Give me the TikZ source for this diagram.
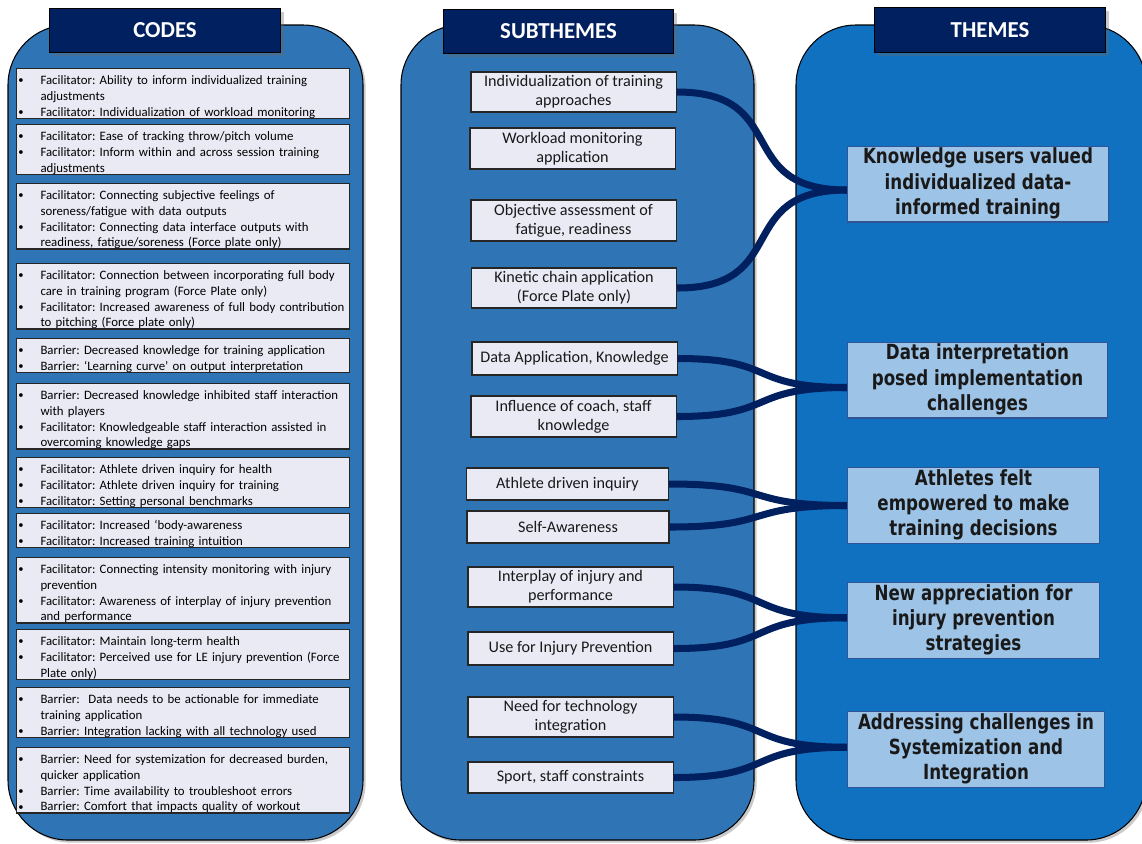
\documentclass[tikz,border=0pt]{standalone}
\usepackage{fontspec}
\usepackage{graphicx}
\setmainfont{Carlito}
\newfontfamily\themefont{DejaVu Sans}
\usepackage{tikz}
\usetikzlibrary{calc}
\usetikzlibrary{shadows}

\definecolor{panelblue}{HTML}{2F75B5}
\definecolor{themepanel}{HTML}{1071C1}
\definecolor{navy}{HTML}{002060}
\definecolor{lavender}{HTML}{E9EAF4}
\definecolor{themefill}{HTML}{9DC3E6}
\definecolor{themeedge}{HTML}{2F5597}

\newcommand{\bul}[1]{\par\noindent\hangindent=11.6pt\hangafter=1%
  \makebox[11.6pt][l]{\hspace{-1pt}\raisebox{0.4pt}{\fontsize{6}{6}\selectfont\textbullet}}#1\par}
\newcommand{\tall}[1]{\scalebox{1}[1.25]{\begin{tabular}{@{}c@{}}#1\end{tabular}}}

\begin{document}
\begin{tikzpicture}
 [ x=0.02cm, y=-0.02cm
 , panel/.style={draw=black, line width=0.6pt, rounded corners=1.2cm,
     drop shadow={shadow xshift=1.5pt, shadow yshift=-1.5pt, opacity=0.35, fill=black!60}}
 , header/.style={draw=black, fill=navy, text=white, line width=0.5pt,
     font=\bfseries\fontsize{13}{15}\selectfont, minimum width=131pt, minimum height=25.5pt,
     drop shadow={shadow xshift=2pt, shadow yshift=-2pt, opacity=0.35, fill=black!60}}
 , codebox/.style={draw=black!85, fill=lavender, line width=0.7pt, anchor=north west,
     text width=185.3pt, inner xsep=2pt, inner ysep=0pt, align=left,
     font=\fontsize{7.3}{9}\selectfont\frenchspacing, minimum height={(#1*16+1)*0.02cm}}
 , subbox/.style={draw=black!85, fill=lavender, line width=0.7pt, text=black!90,
     align=center, inner sep=1pt, minimum width=116.8pt, minimum height={#1*0.02cm},
     font=\fontsize{9.2}{11}\selectfont}
 , themebox/.style={draw=themeedge, fill=themefill, line width=0.7pt, text=black!90,
     inner sep=0pt, minimum width=#1, minimum height=43.1pt,
     font=\themefont\bfseries\fontsize{9.5}{11.5}\selectfont}
 , link/.style={draw=navy, line width=4pt}
 ]
  \clip (0,0) rectangle (1142,843);

  % the three columns
  \draw[panel, fill=panelblue] (8,25) rectangle (363,840);
  \draw[panel, fill=panelblue] (401,25) rectangle (754,840);
  \draw[panel, fill=themepanel] (796,25) rectangle (1146,840);

  \node[header] (codes) at (165,30.5) {CODES};
  \node[header] (subthemes) at (558.5,31.5) {SUBTHEMES};
  \node[header] (themes) at (990,30) {THEMES};

  % codes
  \node[codebox=3] (c1) at (16,68)
    {\bul{Facilitator: Ability to inform individualized training\newline adjustments}
     \bul{Facilitator: Individualization of workload monitoring}};
  \node[codebox=3] (c2) at (16,124)
    {\bul{Facilitator: Ease of tracking throw/pitch volume}
     \bul{Facilitator: Inform within and across session training\newline adjustments}};
  \node[codebox=4] (c3) at (16,183)
    {\bul{Facilitator: Connecting subjective feelings of\newline soreness/fatigue with data outputs}
     \bul{Facilitator: Connecting data interface outputs with\newline readiness, fatigue/soreness (Force plate only)}};
  \node[codebox=4] (c4) at (16,263)
    {\bul{Facilitator: Connection between incorporating full body\newline care in training program (Force Plate only)}
     \bul{Facilitator: Increased awareness of full body contribution\newline to pitching (Force plate only)}};
  \node[codebox=2] (c5) at (16,338)
    {\bul{Barrier: Decreased knowledge for training application}
     \bul{Barrier: ‘Learning curve’ on output interpretation}};
  \node[codebox=4] (c6) at (16,383)
    {\bul{Barrier: Decreased knowledge inhibited staff interaction\newline with players}
     \bul{Facilitator: Knowledgeable staff interaction assisted in\newline overcoming knowledge gaps}};
  \node[codebox=3] (c7) at (16,457)
    {\bul{Facilitator: Athlete driven inquiry for health}
     \bul{Facilitator: Athlete driven inquiry for training}
     \bul{Facilitator: Setting personal benchmarks}};
  \node[codebox=2] (c8) at (16,513)
    {\bul{Facilitator: Increased ‘body-awareness}
     \bul{Facilitator: Increased training intuition}};
  \node[codebox=4] (c9) at (16,557)
    {\bul{Facilitator: Connecting intensity monitoring with injury\newline prevention}
     \bul{Facilitator: Awareness of interplay of injury prevention\newline and performance}};
  \node[codebox=3] (c10) at (16,629)
    {\bul{Facilitator: Maintain long-term health}
     \bul{Facilitator: Perceived use for LE injury prevention (Force\newline Plate only)}};
  \node[codebox=3] (c11) at (16,687)
    {\bul{Barrier:\ \ Data needs to be actionable for immediate\newline training application}
     \bul{Barrier: Integration lacking with all technology used}};
  \node[codebox=4] (c12) at (16,747)
    {\bul{Barrier: Need for systemization for decreased burden,\newline quicker application}
     \bul{Barrier: Time availability to troubleshoot errors}
     \bul{Barrier: Comfort that impacts quality of workout}};

  % subthemes
  \node[subbox=40] (S1) at (573.5,92) {Individualization of training\\approaches};
  \node[subbox=41] (S2) at (572.5,148.5) {Workload monitoring\\application};
  \node[subbox=41] (S3) at (573.5,220.5) {Objective assessment of\\fatigue, readiness};
  \node[subbox=40] (S4) at (574,288) {Kinetic chain application\\(Force Plate only)};
  \node[subbox=33] (S5) at (574.5,358.5) {Data Application, Knowledge};
  \node[subbox=41] (S6) at (573.5,416.5) {Influence of coach, staff\\knowledge};
  \node[subbox=32, minimum width=115pt] (S7) at (567.5,484) {Athlete driven inquiry};
  \node[subbox=32, minimum width=115pt] (S8) at (568,527) {Self-Awareness};
  \node[subbox=40] (S9) at (570.5,587) {Interplay of injury and\\performance};
  \node[subbox=33] (S10) at (570.5,648.5) {Use for Injury Prevention};
  \node[subbox=40] (S11) at (570.5,717) {Need for technology\\integration};
  \node[subbox=31] (S12) at (570.5,777.5) {Sport, staff constraints};

  % themes
  \node[themebox=148.5pt] (T1) at (978,184)
    {\tall{Knowledge users valued\\individualized data-\\informed training}};
  \node[themebox=148pt] (T2) at (977.5,380)
    {\tall{Data interpretation\\posed implementation\\challenges}};
  \node[themebox=143.4pt] (T3) at (973.5,505.5)
    {\tall{Athletes felt\\empowered to make\\training decisions}};
  \node[themebox=143.4pt] (T4) at (973.5,620.5)
    {\tall{New appreciation for\\injury prevention\\strategies}};
  \node[themebox=146.3pt] (T5) at (976,749.5)
    {\tall{Addressing challenges in\\Systemization and\\Integration}};

  % braces from subthemes to themes
  \foreach \a/\b/\t in {S1/S4/T1, S5/S6/T2, S7/S8/T3, S9/S10/T4, S11/S12/T5}
  {
    \coordinate (\t j) at ($(\a.east)!.5!(\b.east)$);
    \draw[link] (\a.east) to[out=0,in=180,looseness=1.5] (\t j -| \t.west);
    \draw[link] (\b.east) to[out=0,in=180,looseness=1.5] (\t j -| \t.west);
  }
\end{tikzpicture}
\end{document}
